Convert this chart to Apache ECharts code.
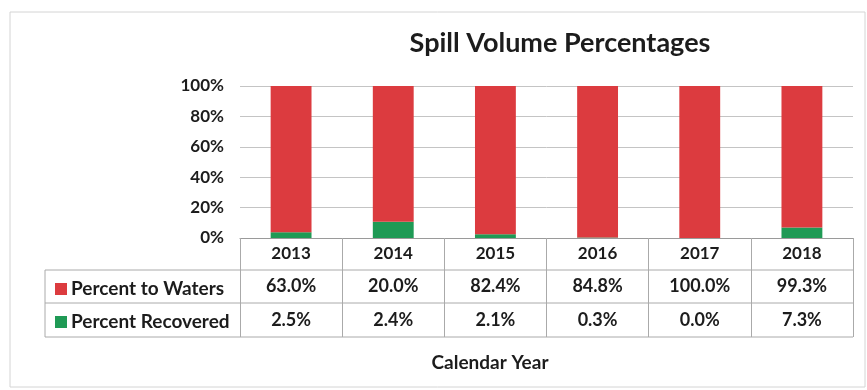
<!DOCTYPE html>
<html><head><meta charset="utf-8">
<script src="https://cdn.jsdelivr.net/npm/echarts@6/dist/echarts.min.js"></script>
<style>html,body{margin:0;padding:0;background:#fff}#chart{width:867px;height:390px}</style>
</head><body><div id="chart"></div>
<script>
// Spill volumes by calendar year (percent of each year's spill)
const years = ['2013', '2014', '2015', '2016', '2017', '2018'];
const toWaters = [63.0, 20.0, 82.4, 84.8, 100.0, 99.3];
const recovered = [2.5, 2.4, 2.1, 0.3, 0.0, 7.3];
const yTicks = [0, 20, 40, 60, 80, 100];

const RED = '#dc3b3f', GREEN = '#1f9a55', INK = '#1c1c1c';
const FONT = 'Lato, "Open Sans", sans-serif';

// 100% stacked: each column shows its year's share of the two parts
const totals = years.map((_, i) => toWaters[i] + recovered[i]);
const recShare = recovered.map((v, i) => totals[i] ? v / totals[i] * 100 : 0);
const watShare = toWaters.map((v, i) => totals[i] ? v / totals[i] * 100 : 0);
const pct = v => v.toFixed(1) + '%';

const W = 867, H = 390;
const G = { left: 240, right: 14, top: 86, bottom: 152 };
const x0 = 45, x1 = W - G.right, yAxisY = H - G.bottom;
const rowH = [32, 33, 34];
const r1 = yAxisY + rowH[0], r2 = r1 + rowH[1], r3 = r2 + rowH[2];

const line = (xa, ya, xb, yb, c) => ({
  type: 'line', silent: true,
  shape: { x1: xa, y1: ya, x2: xb, y2: yb },
  style: { stroke: c || '#aaa', lineWidth: 1 }
});

const chart = echarts.init(document.getElementById('chart'));
chart.setOption({
  animation: false,
  backgroundColor: '#fff',
  title: {
    text: 'Spill Volume Percentages',
    left: 555, top: 25, textAlign: 'center',
    textStyle: { fontFamily: FONT, fontWeight: 'bold', fontSize: 27, color: INK }
  },
  legend: {
    orient: 'vertical', left: 50, top: r1 + 3,
    data: ['Percent to Waters', 'Percent Recovered'],
    icon: 'rect', itemWidth: 12, itemHeight: 12, itemGap: 11,
    textStyle: { fontFamily: FONT, fontWeight: 'bold', fontSize: 19, color: INK, lineHeight: 22, padding: [0, 0, 0, -1] }
  },
  grid: G,
  xAxis: {
    type: 'category', data: years,
    axisLine: { lineStyle: { color: '#9a9a9a' } },
    axisTick: { show: true, interval: 0, length: r3 - yAxisY, lineStyle: { color: '#aaa' } },
    axisLabel: {
      interval: 0, margin: 0,
      formatter: (v, i) => `{y|${v}}\n{a|${pct(toWaters[i])}}\n{b|${pct(recovered[i])}}`,
      rich: {
        y: { fontFamily: FONT, fontWeight: 'bold', fontSize: 17, color: INK, lineHeight: rowH[0], height: rowH[0] },
        a: { fontFamily: FONT, fontWeight: 'bold', fontSize: 18, color: INK, lineHeight: rowH[1], height: rowH[1] },
        b: { fontFamily: FONT, fontWeight: 'bold', fontSize: 18, color: INK, lineHeight: rowH[2], height: rowH[2] }
      }
    }
  },
  yAxis: {
    type: 'value', min: yTicks[0], max: yTicks[yTicks.length - 1], interval: yTicks[1] - yTicks[0],
    axisLine: { show: false }, axisTick: { show: false },
    splitLine: { lineStyle: { color: '#c4c4c4' } },
    axisLabel: { formatter: '{value}%', margin: 16, fontFamily: FONT, fontWeight: 'bold', fontSize: 17, color: INK }
  },
  series: [
    { name: 'Percent Recovered', type: 'bar', stack: 'share', barWidth: '40%', data: recShare, itemStyle: { color: GREEN } },
    { name: 'Percent to Waters', type: 'bar', stack: 'share', barWidth: '40%', data: watShare, itemStyle: { color: RED } }
  ],
  graphic: [
    { type: 'rect', silent: true, shape: { x: 10, y: 12, width: W - 12, height: H - 15 }, style: { fill: 'none', stroke: '#d4d4d4', lineWidth: 1 } },
    line(x0, r1, x1, r1), line(x0, r2, x1, r2), line(x0, r3, x1, r3), line(x0, r1, x0, r3),
    {
      type: 'text', silent: true,
      style: { text: 'Calendar Year', x: 490, y: 363, align: 'center', verticalAlign: 'middle',
        font: `bold 19px ${FONT}`, fill: INK }
    }
  ]
});
</script>
</body></html>
